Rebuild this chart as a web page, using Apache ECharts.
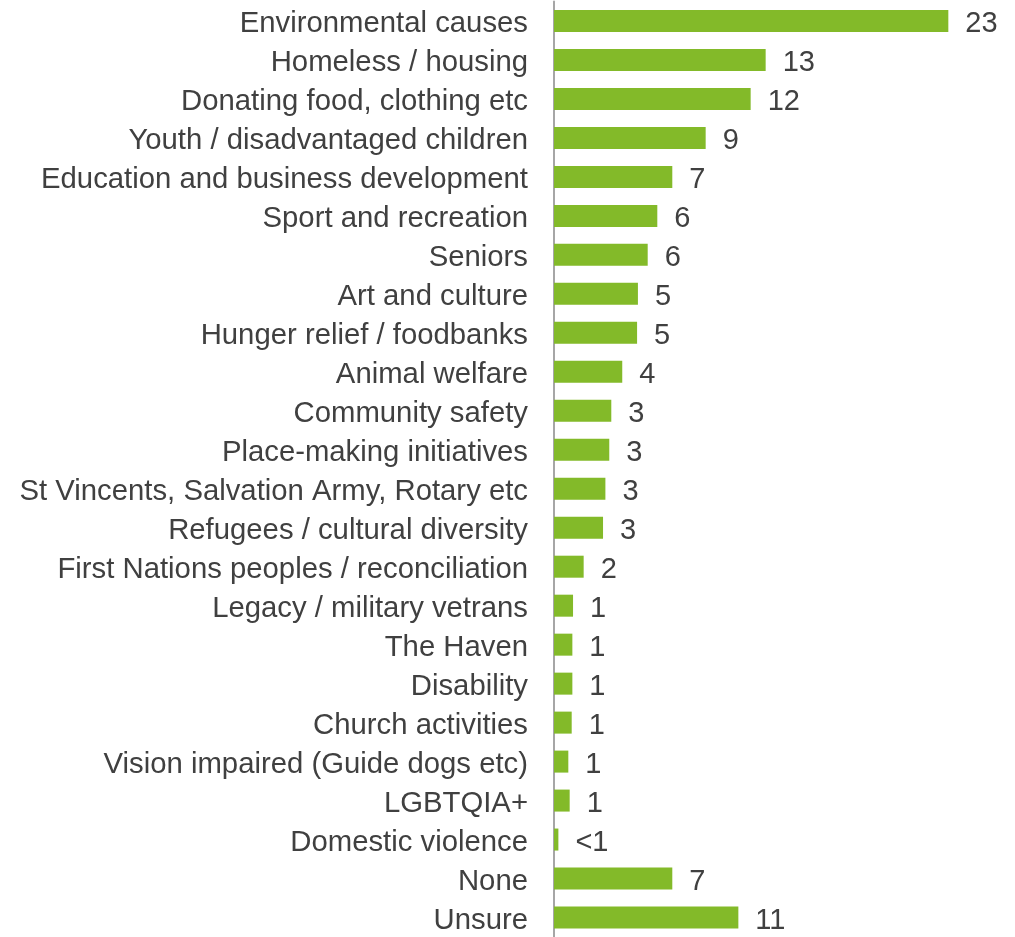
<!DOCTYPE html>
<html>
<head>
<meta charset="utf-8">
<script src="https://cdn.jsdelivr.net/npm/echarts@6/dist/echarts.min.js"></script>
<style>html,body{margin:0;padding:0;background:#fff}#c{width:1015px;height:937px}</style>
</head>
<body>
<div id="c"></div>
<script>
const categories = [
  "Environmental causes",
  "Homeless / housing",
  "Donating food, clothing etc",
  "Youth / disadvantaged children",
  "Education and business development",
  "Sport and recreation",
  "Seniors",
  "Art and culture",
  "Hunger relief / foodbanks",
  "Animal welfare",
  "Community safety",
  "Place-making initiatives",
  "St Vincents, Salvation Army, Rotary etc",
  "Refugees / cultural diversity",
  "First Nations peoples / reconciliation",
  "Legacy / military vetrans",
  "The Haven",
  "Disability",
  "Church activities",
  "Vision impaired (Guide dogs etc)",
  "LGBTQIA+",
  "Domestic violence",
  "None",
  "Unsure"
];
const values = [23.4, 12.56, 11.67, 9.0, 7.02, 6.13, 5.56, 4.98, 4.93, 4.05, 3.40, 3.28, 3.05, 2.91, 1.76, 1.13, 1.09, 1.09, 1.05, 0.85, 0.93, 0.26, 7.02, 10.94];
const valueLabels = ["23","13","12","9","7","6","6","5","5","4","3","3","3","3","2","1","1","1","1","1","1","<1","7","11"];

const FONT = 'Liberation Sans, Arial, sans-serif';
const chart = echarts.init(document.getElementById('c'));
chart.setOption({
  animation: false,
  grid: { left: 554, top: 1.5, width: 455, height: 937.6, containLabel: false },
  xAxis: {
    type: 'value', min: 0, max: 27,
    show: false
  },
  yAxis: {
    type: 'category',
    data: categories,
    inverse: true,
    axisLine: { show: true, lineStyle: { color: '#A6A6A6', width: 2 } },
    axisTick: { show: false },
    axisLabel: {
      margin: 26,
      formatter: v => '{t|' + v + '}',
      rich: {
        t: { color: '#404040', fontSize: 29.3, fontFamily: FONT, padding: [6, 0, 0, 0] }
      }
    }
  },
  series: [{
    type: 'bar',
    data: values,
    barWidth: 22,
    itemStyle: { color: '#83BA29' },
    label: {
      show: true,
      position: 'right',
      distance: 17,
      formatter: p => '{t|' + valueLabels[p.dataIndex] + '}',
      rich: {
        t: { color: '#404040', fontSize: 29, fontFamily: FONT, padding: [6, 0, 0, 0] }
      }
    }
  }]
});
</script>
</body>
</html>
